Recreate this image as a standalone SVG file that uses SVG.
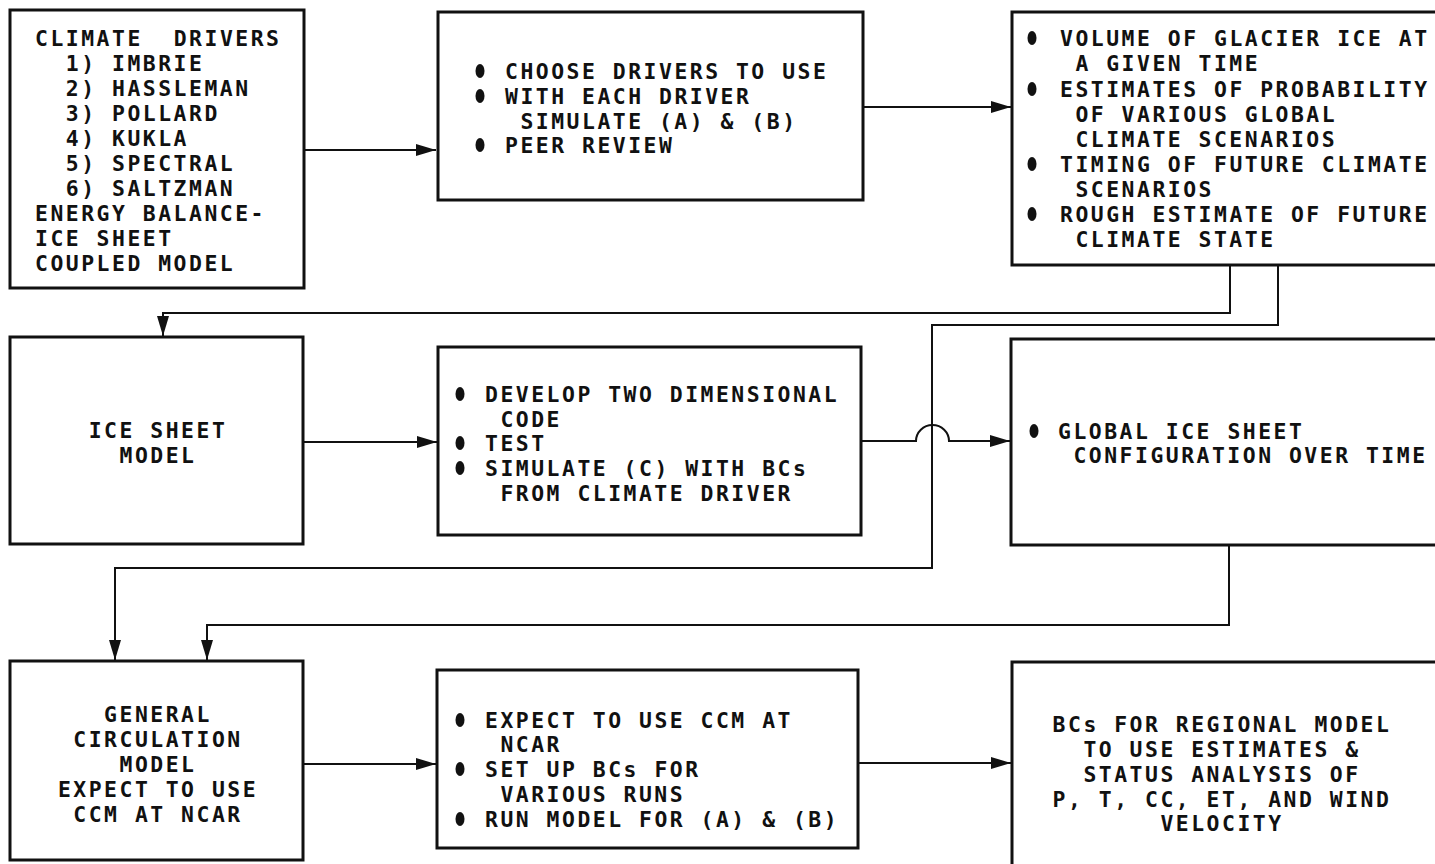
<svg xmlns="http://www.w3.org/2000/svg" width="1435" height="864" viewBox="0 0 1435 864">
<style>
.box{fill:none;stroke:#111;stroke-width:3}
.con{fill:none;stroke:#111;stroke-width:2}
text{font-family:"DejaVu Sans Mono","Liberation Mono",monospace;font-size:21.4px;font-weight:bold;letter-spacing:2.52px;fill:#111}
.c{text-anchor:middle}
.b{fill:#111}
</style>
<defs>
<marker id="ah" markerUnits="userSpaceOnUse" markerWidth="20" markerHeight="12" refX="20" refY="6" orient="auto">
<path d="M0,0 L20,6 L0,12 z" fill="#111"/>
</marker>
</defs>
<rect width="1435" height="864" fill="#fff"/>
<g id="connectors">
<path class="con" d="M304 150 H436" marker-end="url(#ah)"/>
<path class="con" d="M863 107 H1011" marker-end="url(#ah)"/>
<path class="con" d="M1230 265 V313 H163 V336" marker-end="url(#ah)"/>
<path class="con" d="M1278 265 V325 H932 V568 H115 V660" marker-end="url(#ah)"/>
<path class="con" d="M303 442 H437" marker-end="url(#ah)"/>
<path class="con" d="M861 441 H916 A16.5 16 0 0 1 949 441 H1010" marker-end="url(#ah)"/>
<path class="con" d="M1229 545 V625 H207 V660" marker-end="url(#ah)"/>
<path class="con" d="M303 764 H436" marker-end="url(#ah)"/>
<path class="con" d="M858 763 H1011" marker-end="url(#ah)"/>
</g>
<g id="climate-drivers">
<rect class="box" x="10" y="10" width="294" height="278"/>
<text x="35" y="46">CLIMATE<tspan x="173.7">DRIVERS</tspan></text>
<text x="65.8" y="71">1) IMBRIE</text>
<text x="65.8" y="96">2) HASSLEMAN</text>
<text x="65.8" y="121">3) POLLARD</text>
<text x="65.8" y="146">4) KUKLA</text>
<text x="65.8" y="171">5) SPECTRAL</text>
<text x="65.8" y="196">6) SALTZMAN</text>
<text x="35" y="221">ENERGY BALANCE-</text>
<text x="35" y="246">ICE SHEET</text>
<text x="35" y="271">COUPLED MODEL</text>
</g>
<g id="choose-drivers">
<rect class="box" x="438" y="12" width="425" height="188"/>
<ellipse class="b" cx="480" cy="71" rx="4.5" ry="7"/>
<ellipse class="b" cx="480" cy="96" rx="4.5" ry="7"/>
<ellipse class="b" cx="480" cy="145" rx="4.5" ry="7"/>
<text x="505" y="79">CHOOSE DRIVERS TO USE</text>
<text x="505" y="104">WITH EACH DRIVER</text>
<text x="520.4" y="129">SIMULATE (A) &amp; (B)</text>
<text x="505" y="153">PEER REVIEW</text>
</g>
<g id="outputs">
<rect class="box" x="1012" y="12" width="440" height="253"/>
<ellipse class="b" cx="1032" cy="38" rx="4.5" ry="7"/>
<ellipse class="b" cx="1032" cy="89" rx="4.5" ry="7"/>
<ellipse class="b" cx="1032" cy="164" rx="4.5" ry="7"/>
<ellipse class="b" cx="1032" cy="214" rx="4.5" ry="7"/>
<text x="1060" y="46">VOLUME OF GLACIER ICE AT</text>
<text x="1075.4" y="71">A GIVEN TIME</text>
<text x="1060" y="97">ESTIMATES OF PROBABILITY</text>
<text x="1075.4" y="122">OF VARIOUS GLOBAL</text>
<text x="1075.4" y="147">CLIMATE SCENARIOS</text>
<text x="1060" y="172">TIMING OF FUTURE CLIMATE</text>
<text x="1075.4" y="197">SCENARIOS</text>
<text x="1060" y="222">ROUGH ESTIMATE OF FUTURE</text>
<text x="1075.4" y="247">CLIMATE STATE</text>
</g>
<g id="ice-sheet-model">
<rect class="box" x="10" y="337" width="293" height="207"/>
<text class="c" x="158" y="438">ICE SHEET</text>
<text class="c" x="158" y="463">MODEL</text>
</g>
<g id="develop-code">
<rect class="box" x="438" y="347" width="423" height="188"/>
<ellipse class="b" cx="460" cy="394" rx="4.5" ry="7"/>
<ellipse class="b" cx="460" cy="443" rx="4.5" ry="7"/>
<ellipse class="b" cx="460" cy="468" rx="4.5" ry="7"/>
<text x="485" y="402">DEVELOP TWO DIMENSIONAL</text>
<text x="500.4" y="427">CODE</text>
<text x="485" y="451">TEST</text>
<text x="485" y="476">SIMULATE (C) WITH BCs</text>
<text x="500.4" y="501">FROM CLIMATE DRIVER</text>
</g>
<g id="global-ice-sheet">
<rect class="box" x="1011" y="339" width="440" height="206"/>
<ellipse class="b" cx="1034" cy="431" rx="4.5" ry="7"/>
<text x="1058" y="439">GLOBAL ICE SHEET</text>
<text x="1073.4" y="463">CONFIGURATION OVER TIME</text>
</g>
<g id="gcm">
<rect class="box" x="10" y="661" width="293" height="199"/>
<text class="c" x="158" y="722">GENERAL</text>
<text class="c" x="158" y="747">CIRCULATION</text>
<text class="c" x="158" y="772">MODEL</text>
<text class="c" x="158" y="797">EXPECT TO USE</text>
<text class="c" x="158" y="822">CCM AT NCAR</text>
</g>
<g id="ccm-runs">
<rect class="box" x="437" y="670" width="421" height="178"/>
<ellipse class="b" cx="460" cy="720" rx="4.5" ry="7"/>
<ellipse class="b" cx="460" cy="769" rx="4.5" ry="7"/>
<ellipse class="b" cx="460" cy="819" rx="4.5" ry="7"/>
<text x="485" y="728">EXPECT TO USE CCM AT</text>
<text x="500.4" y="752">NCAR</text>
<text x="485" y="777">SET UP BCs FOR</text>
<text x="500.4" y="802">VARIOUS RUNS</text>
<text x="485" y="827">RUN MODEL FOR (A) &amp; (B)</text>
</g>
<g id="regional-bcs">
<rect class="box" x="1012" y="662" width="440" height="220"/>
<text class="c" x="1222" y="732">BCs FOR REGIONAL MODEL</text>
<text class="c" x="1222" y="757">TO USE ESTIMATES &amp;</text>
<text class="c" x="1222" y="782">STATUS ANALYSIS OF</text>
<text class="c" x="1222" y="807">P, T, CC, ET, AND WIND</text>
<text class="c" x="1222" y="831">VELOCITY</text>
</g>
</svg>
